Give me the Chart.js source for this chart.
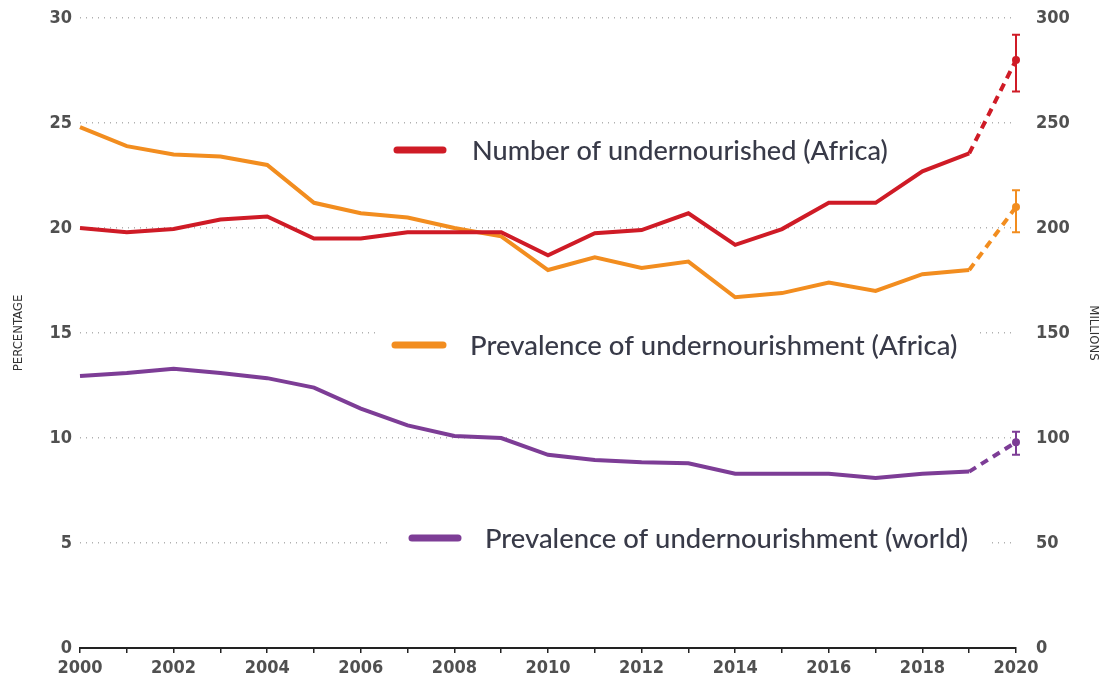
<!DOCTYPE html>
<html>
<head>
<meta charset="utf-8">
<script src="https://cdn.jsdelivr.net/npm/chart.js@4/dist/chart.umd.min.js"></script>
<style>
  html, body { margin: 0; padding: 0; background: #fff; }
  #wrap { width: 1101px; height: 679px; position: relative; }
</style>
</head>
<body>
<div id="wrap"><canvas id="myChart"></canvas></div>
<script>
// global variables

let years = ["2000", "2001", "2002", "2003", "2004", "2005", "2006", "2007", "2008", "2009", "2010",
  "2011", "2012", "2013", "2014", "2015", "2016", "2017", "2018", "2019", "2020"];

// millions, right axis
let numberAfrica = [200, 198, 199.5, 204, 205.5, 195, 195, 198, 198, 198, 187,
  197.5, 199, 207, 192, 199.5, 212, 212, 227, 235.5, 280];
// percent, left axis
let prevAfrica = [24.8, 23.9, 23.5, 23.4, 23.0, 21.2, 20.7, 20.5, 20.0, 19.6, 18.0,
  18.6, 18.1, 18.4, 16.7, 16.9, 17.4, 17.0, 17.8, 18.0, 21.0];
let prevWorld = [12.95, 13.1, 13.3, 13.1, 12.85, 12.4, 11.4, 10.6, 10.1, 10.0, 9.2,
  8.95, 8.85, 8.8, 8.3, 8.3, 8.3, 8.1, 8.3, 8.4, 9.8];

// 2020 projection ranges
let numberRange = [265, 292];
let prevAfricaRange = [19.8, 21.8];
let prevWorldRange = [9.2, 10.3];

let percentTicks = [0, 5, 10, 15, 20, 25, 30];
let millionTicks = [0, 50, 100, 150, 200, 250, 300];

let legendNames = [
  "Number of undernourished (Africa)",
  "Prevalence of undernourishment (Africa)",
  "Prevalence of undernourishment (world)"
];

let red = "#cf1b26";
let orange = "#f28d1f";
let purple = "#7d3d96";
let tickFont = "'Liberation Sans Narrow', 'DejaVu Sans Condensed', 'Roboto', sans-serif";

// dashed line only for the last (projected) step
function dashLast(ctx) {
  return ctx.p1DataIndex === years.length - 1 ? [8, 6] : undefined;
}

// draws the in-chart labels with a white box behind them
const labelPlugin = {
  id: "labelPlugin",
  beforeDatasetsDraw(chart) {
    let c = chart.ctx;
    let items = [
      { name: legendNames[0], color: red, x1: 397, x2: 443, tx: 472, y: 150, w: 416 },
      { name: legendNames[1], color: orange, x1: 395, x2: 443, tx: 470, y: 345, w: 488 },
      { name: legendNames[2], color: purple, x1: 412, x2: 458, tx: 485, y: 538, w: 483 }
    ];
    c.save();
    for (let i = 0; i < items.length; i++) {
      let it = items[i];
      // fit font size to the width seen in the picture
      c.font = "500 24px Lato";
      let m = c.measureText(it.name).width;
      let size = 24 * it.w / m;
      c.font = "500 " + size.toFixed(1) + "px Lato";
      c.fillStyle = "#ffffff";
      c.fillRect(it.x1 - 20, it.y - 20, it.tx - it.x1 + it.w + 40, 40);
      c.strokeStyle = it.color;
      c.lineWidth = 7;
      c.lineCap = "round";
      c.beginPath();
      c.moveTo(it.x1, it.y);
      c.lineTo(it.x2, it.y);
      c.stroke();
      c.fillStyle = "#383a48";
      c.textBaseline = "middle";
      c.fillText(it.name, it.tx, it.y + 1);
    }
    c.restore();
  }
};

// error bars at 2020
const errorPlugin = {
  id: "errorPlugin",
  afterDatasetsDraw(chart) {
    let c = chart.ctx;
    let x = chart.scales.x.getPixelForValue(years.length - 1);
    let bars = [
      { r: numberRange, axis: "y1", color: red },
      { r: prevAfricaRange, axis: "y", color: orange },
      { r: prevWorldRange, axis: "y", color: purple }
    ];
    c.save();
    c.lineWidth = 2;
    for (let i = 0; i < bars.length; i++) {
      let s = chart.scales[bars[i].axis];
      let top = s.getPixelForValue(bars[i].r[1]);
      let bot = s.getPixelForValue(bars[i].r[0]);
      c.strokeStyle = bars[i].color;
      c.beginPath();
      c.moveTo(x, top); c.lineTo(x, bot);
      c.moveTo(x - 4, top); c.lineTo(x + 4, top);
      c.moveTo(x - 4, bot); c.lineTo(x + 4, bot);
      c.stroke();
    }
    c.restore();
  }
};

function makeLine(label, data, color, axis) {
  return {
    label: label,
    data: data,
    yAxisID: axis,
    borderColor: color,
    backgroundColor: color,
    borderWidth: 4,
    tension: 0,
    pointRadius: data.map((v, i) => (i === data.length - 1 ? 2 : 0)),
    segment: { borderDash: dashLast }
  };
}

// keep the plot top where the picture has it
function fitLeft(s) {
  s.width = 80;
  s.paddingTop = 0;
}
function fitRight(s) {
  s.width = 85;
  s.paddingTop = 0;
}

const data = {
  labels: years,
  datasets: [
    makeLine(legendNames[0], numberAfrica, red, "y1"),
    makeLine(legendNames[1], prevAfrica, orange, "y"),
    makeLine(legendNames[2], prevWorld, purple, "y")
  ]
};

const config = {
  type: "line",
  data: data,
  options: {
    responsive: true,
    maintainAspectRatio: false,
    animation: false,
    layout: { padding: { top: 18, right: 0, bottom: 0, left: 0 } },
    plugins: { legend: { display: false }, tooltip: { enabled: false } },
    scales: {
      x: {
        offset: false,
        afterFit: (s) => { s.height = 31; },
        grid: { drawOnChartArea: false, drawTicks: true, tickLength: 5, color: "#222", lineWidth: 1.5 },
        border: { display: true, color: "#222", width: 2 },
        ticks: {
          autoSkip: false,
          maxRotation: 0,
          padding: 5,
          color: "#505050",
          font: { family: tickFont, size: 18, weight: "600" },
          callback: (v, i) => (i % 2 === 0 ? years[i] : "")
        }
      },
      y: {
        position: "left",
        min: 0,
        max: 30,
        afterFit: fitLeft,
        afterBuildTicks: (s) => { s.ticks = percentTicks.map((v) => ({ value: v })); },
        grid: { drawTicks: false, color: "#b0b0b0", lineWidth: 1.6 },
        border: { display: false, dash: [1, 5] },
        ticks: { padding: 8, color: "#505050", font: { family: tickFont, size: 18, weight: "600" } },
        title: {
          display: true,
          text: "PERCENTAGE",
          color: "#333",
          padding: { top: 11, bottom: 0 },
          font: { family: tickFont, size: 13 }
        }
      },
      y1: {
        position: "right",
        min: 0,
        max: 300,
        afterFit: fitRight,
        afterBuildTicks: (s) => { s.ticks = millionTicks.map((v) => ({ value: v })); },
        grid: { display: false },
        border: { display: false },
        ticks: { padding: 12, color: "#505050", font: { family: tickFont, size: 18, weight: "600" } },
        title: {
          display: true,
          text: "MILLIONS",
          color: "#333",
          padding: { top: 0, bottom: 0 },
          font: { family: tickFont, size: 13 }
        }
      }
    }
  },
  plugins: [labelPlugin, errorPlugin]
};

// dotted gridlines
config.options.scales.y.grid.tickBorderDash = [1, 5];
config.options.scales.y.border.dash = [1, 5];

let canvasChart = document.getElementById("myChart").getContext("2d");
const myChart = new Chart(canvasChart, config);
</script>
</body>
</html>
